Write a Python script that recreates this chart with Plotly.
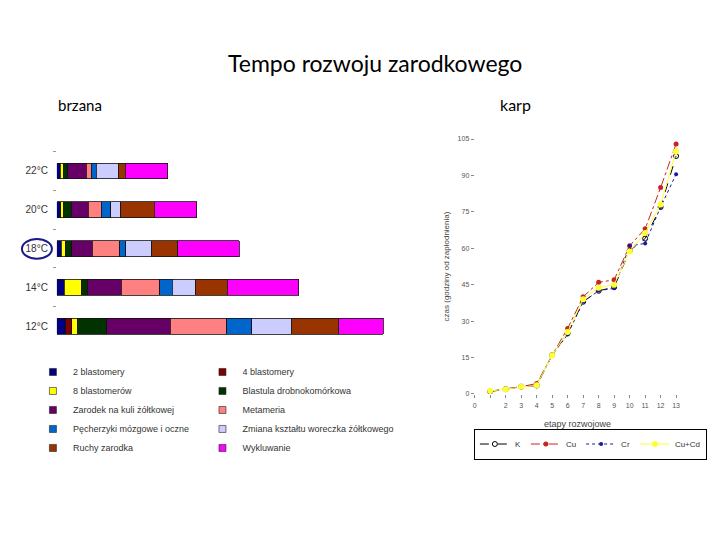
import plotly.graph_objects as go

W, H = 720, 540
OFF = 8  # page body margin of the written html

# ---------- data: brzana (stacked bars) ----------
temps = ["22°C", "20°C", "18°C", "14°C", "12°C"]
stages = ["2 blastomery", "4 blastomery", "8 blastomerów", "Blastula drobnokomórkowa",
          "Zarodek na kuli żółtkowej", "Metameria", "Pęcherzyki mózgowe i oczne",
          "Zmiana kształtu woreczka żółtkowego", "Ruchy zarodka", "Wykluwanie"]
stage_colors = ["#000080", "#800000", "#FFFF00", "#003300", "#660066",
                "#FF8080", "#0066CC", "#CCCCFF", "#993300", "#FF00FF"]
s_2blast = [3.3, 4.0, 4.3, 7.3, 9.0]
s_4blast = [0.0, 0.0, 0.0, 0.0, 6.0]
s_8blast = [3.7, 2.7, 4.7, 17.7, 6.0]
s_blastula = [3.7, 7.7, 6.0, 5.7, 29.0]
s_zarodek = [19.0, 17.3, 20.7, 34.0, 63.7]
s_metameria = [4.7, 12.7, 27.3, 38.3, 56.7]
s_pecherzyki = [5.0, 9.7, 6.3, 12.7, 25.0]
s_zmiana = [22.3, 10.0, 25.7, 23.7, 39.7]
s_ruchy = [6.7, 33.7, 26.0, 31.3, 47.7]
s_wyklucie = [42.7, 42.7, 61.7, 71.7, 44.7]
stage_values = [s_2blast, s_4blast, s_8blast, s_blastula, s_zarodek,
                s_metameria, s_pecherzyki, s_zmiana, s_ruchy, s_wyklucie]

# ---------- data: karp (lines) ----------
etapy = [1, 2, 3, 4, 5, 6, 7, 8, 9, 10, 11, 12, 13]
k_vals = [1.0, 2.0, 3.0, 3.5, 16.0, 25.0, 38.0, 42.5, 44.0, 59.0, 64.0, 77.0, 98.0]
cu_vals = [1.2, 2.0, 3.0, 4.3, 16.0, 27.0, 40.0, 46.0, 47.0, 61.0, 68.0, 85.0, 103.0]
cr_vals = [1.0, 2.0, 3.0, 3.5, 16.0, 24.5, 38.0, 42.5, 43.5, 61.0, 62.0, 77.0, 90.5]
cucd_vals = [1.2, 2.0, 3.0, 3.6, 16.0, 25.5, 39.0, 43.8, 45.0, 58.7, 66.3, 78.0, 100.0]
x_ticks = list(range(0, 14))
x_ticktext = ["0", "", "2", "3", "4", "5", "6", "7", "8", "9", "10", "11", "12", "13"]
y_ticks = [0, 15, 30, 45, 60, 75, 90, 105]


def px_x(p):
    return (p - OFF) / W


def px_y(p):
    return 1 - (p - OFF) / H


fig = go.Figure()

for i, (name, col, vals) in enumerate(zip(stages, stage_colors, stage_values)):
    fig.add_trace(go.Bar(
        y=temps, x=vals, name=name, orientation="h",
        marker=dict(color=col, line=dict(color="#111111", width=0.8)),
        xaxis="x", yaxis="y", showlegend=False,
        hoverinfo="x+name",
    ))
# legend swatches (small squares like the original)
for i, (name, col) in enumerate(zip(stages, stage_colors)):
    fig.add_trace(go.Scatter(
        x=[None], y=[None], name=name, mode="markers",
        marker=dict(color=col, symbol="square", size=7,
                    line=dict(color="#222222", width=0.6)),
        xaxis="x", yaxis="y",
        legend="legend" if i % 2 == 0 else "legend2",
        hoverinfo="skip",
    ))

series = [
    ("K", k_vals, "#000000", "dash", "circle-open", 5),
    ("Cu", cu_vals, "#CC2222", "dashdot", "circle", 5),
    ("Cr", cr_vals, "#1A1AA0", "dot", "circle", 4),
    ("Cu+Cd", cucd_vals, "#FFFF33", "solid", "circle", 6),
]
for name, vals, col, dash, sym, sz in series:
    fig.add_trace(go.Scatter(
        x=etapy, y=vals, name=name, mode="lines+markers",
        line=dict(color=col, width=1, dash=dash),
        marker=dict(color=col, symbol=sym, size=sz),
        xaxis="x2", yaxis="y2", legend="legend3",
    ))

font_main = "Liberation Sans, Arial, sans-serif"
font_title = "Lato, Open Sans, sans-serif"

fig.update_layout(
    width=W, height=H,
    margin=dict(l=0, r=0, t=0, b=0),
    paper_bgcolor="white", plot_bgcolor="white",
    barmode="stack", bargap=0.59,
    showlegend=True,
    font=dict(family=font_main, color="#333333"),
    xaxis=dict(domain=[px_x(55), px_x(395)], range=[0, 340], visible=False),
    yaxis=dict(domain=[px_y(346), px_y(149.4)], categoryorder="array",
               categoryarray=temps, autorange="reversed",
               showgrid=False, zeroline=False, showline=False,
               ticks="outside", tickson="boundaries", ticklen=3, tickcolor="#999999",
               ticklabelstandoff=8,
               tickfont=dict(size=10, color="#333333", family=font_main)),
    xaxis2=dict(domain=[px_x(474), px_x(680)], range=[0, 13.26], anchor="y2",
                tickmode="array", tickvals=x_ticks, ticktext=x_ticktext,
                showgrid=False, zeroline=False, showline=False,
                ticks="outside", ticklen=3, tickcolor="#888888",
                ticklabelstandoff=2,
                tickfont=dict(size=7, color="#555555", family=font_main),
                title=dict(text="etapy rozwojowe", standoff=12,
                           font=dict(size=9, color="#444444", family=font_main))),
    yaxis2=dict(domain=[px_y(395), px_y(136.7)], range=[0, 105], anchor="x2",
                tickmode="array", tickvals=y_ticks,
                showgrid=False, zeroline=False, showline=False,
                ticks="outside", ticklen=3, tickcolor="#888888",
                tickfont=dict(size=7, color="#555555", family=font_main),
                title=dict(text="czas (godziny od zapłodnienia)", standoff=6,
                           font=dict(size=8, color="#444444", family=font_main))),
    legend=dict(x=px_x(31), y=px_y(358), xanchor="left", yanchor="top",
                orientation="v", traceorder="normal", bgcolor="rgba(0,0,0,0)",
                font=dict(size=9, color="#333333", family=font_main), itemwidth=30),
    legend2=dict(x=px_x(201), y=px_y(358), xanchor="left", yanchor="top",
                 orientation="v", traceorder="normal", bgcolor="rgba(0,0,0,0)",
                 font=dict(size=9, color="#333333", family=font_main), itemwidth=30),
    legend3=dict(x=px_x(590), y=px_y(430), xanchor="center", yanchor="top",
                 orientation="h", bgcolor="white", bordercolor="#000000", borderwidth=1,
                 font=dict(size=8, color="#333333", family=font_main), itemwidth=30),
    annotations=[
        dict(text="Tempo rozwoju zarodkowego", x=px_x(374), y=px_y(60), xref="paper",
             yref="paper", showarrow=False, xanchor="center", yanchor="middle",
             font=dict(size=23, color="#000000", family=font_title)),
        dict(text="brzana", x=px_x(54), y=px_y(102), xref="paper", yref="paper",
             showarrow=False, xanchor="left", yanchor="middle",
             font=dict(size=15, color="#000000", family=font_title)),
        dict(text="karp", x=px_x(497), y=px_y(102), xref="paper", yref="paper",
             showarrow=False, xanchor="left", yanchor="middle",
             font=dict(size=16, color="#000000", family=font_title)),
    ],
    shapes=[
        dict(type="circle", xref="paper", yref="paper",
             x0=px_x(20), x1=px_x(50), y0=px_y(258), y1=px_y(238),
             line=dict(color="#1A1A8C", width=2)),
    ],
)

fig.write_html("out.html")
